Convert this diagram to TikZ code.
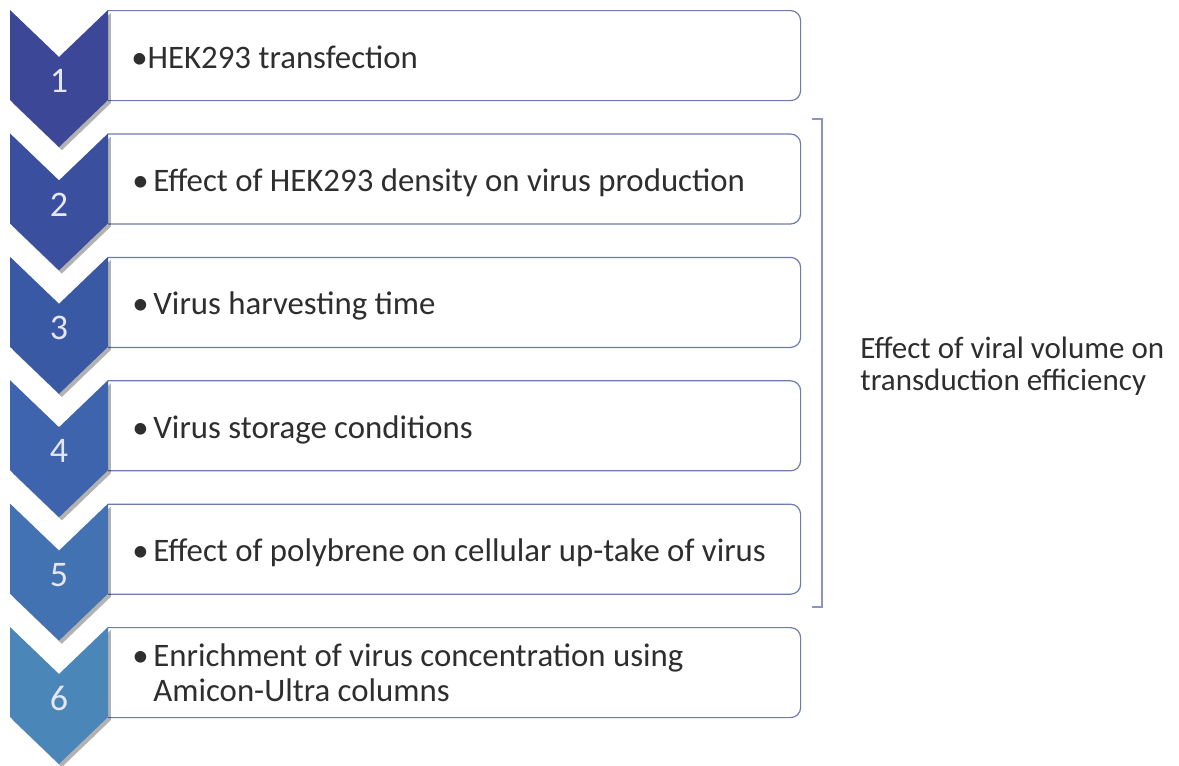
\documentclass[tikz,border=0pt]{standalone}
\usepackage{fontspec}
\setmainfont{Carlito}
\usetikzlibrary{shadows}
\definecolor{c1}{HTML}{3C4798}
\definecolor{c2}{HTML}{3B4F9F}
\definecolor{c3}{HTML}{3A59A5}
\definecolor{c4}{HTML}{3D64AC}
\definecolor{c5}{HTML}{4272B2}
\definecolor{c6}{HTML}{4B86B8}
\definecolor{boxline}{HTML}{6E7AB2}
\definecolor{txt}{HTML}{2E2E2E}
\definecolor{numcol}{HTML}{E4E6F2}
\definecolor{brk}{HTML}{8C92C4}
\begin{document}
\begin{tikzpicture}[x=0.5pt,y=-0.5pt,
  chev/.style={drop shadow={shadow xshift=1.4pt,shadow yshift=-1.6pt,opacity=0.3,fill=black}},
  itembox/.style={draw=boxline,line width=0.6pt,fill=white,rounded corners=5pt,inner sep=0pt,anchor=north west,minimum width=352pt,minimum height=45pt},
  itemtext/.style={anchor=base west,inner sep=0pt,text=txt,font=\fontsize{16.4}{17.5}\selectfont},
  num/.style={text=numcol,font=\fontsize{18}{20}\selectfont,inner sep=0pt},
  lbl/.style={anchor=base west,inner sep=0pt,text=txt,font=\fontsize{15.5}{19}\selectfont}]
\useasboundingbox[fill=white] (0,0) rectangle (1179,766);
% boxes
\begin{scope}
  \clip (108,0) rectangle (1179,766);
  \foreach \i in {1,...,6}{
    \pgfmathsetmacro\t{10+123.4*(\i-1)}
    \node[itembox] (b\i) at (96,\t) {};
  }
\end{scope}
% chevrons
\foreach \i/\col in {1/c1,2/c2,3/c3,4/c4,5/c5,6/c6}{
  \pgfmathsetmacro\t{10+123.4*(\i-1)}
  \fill[\col,chev] (10,\t) -- (59,\t+47) -- (108,\t) -- (108,\t+90) -- (59,\t+137) -- (10,\t+90) -- cycle;
  \node[num] (n\i) at (59,\t+71) {\i};
}
% texts
\node[itemtext] (t1) at (131,68) {•HEK293 transfection};
\node[itemtext] (t2) at (132,191.4) {\makebox[10.5pt][l]{•}Effect of HEK293 density on virus production};
\node[itemtext] (t3) at (132,314.8) {\makebox[10.5pt][l]{•}Virus harvesting time};
\node[itemtext] (t4) at (132,438.2) {\makebox[10.5pt][l]{•}Virus storage conditions};
\node[itemtext] (t5) at (132,561.6) {\makebox[10.5pt][l]{•}Effect of polybrene on cellular up-take of virus};
\node[itemtext] (t6a) at (132,666) {\makebox[10.5pt][l]{•}Enrichment of virus concentration using};
\node[itemtext] (t6b) at (153,701) {Amicon-Ultra columns};
% bracket
\coordinate (bt) at (812,119);
\coordinate (bb) at (812,607);
\draw[brk,line width=0.6pt] (bt) -- ++(10,0) |- (bb);
\node[lbl] (l1) at (860,358) {Effect of viral volume on};
\node[lbl] (l2) at (860,390) {transduction efficiency};
\end{tikzpicture}
\end{document}
